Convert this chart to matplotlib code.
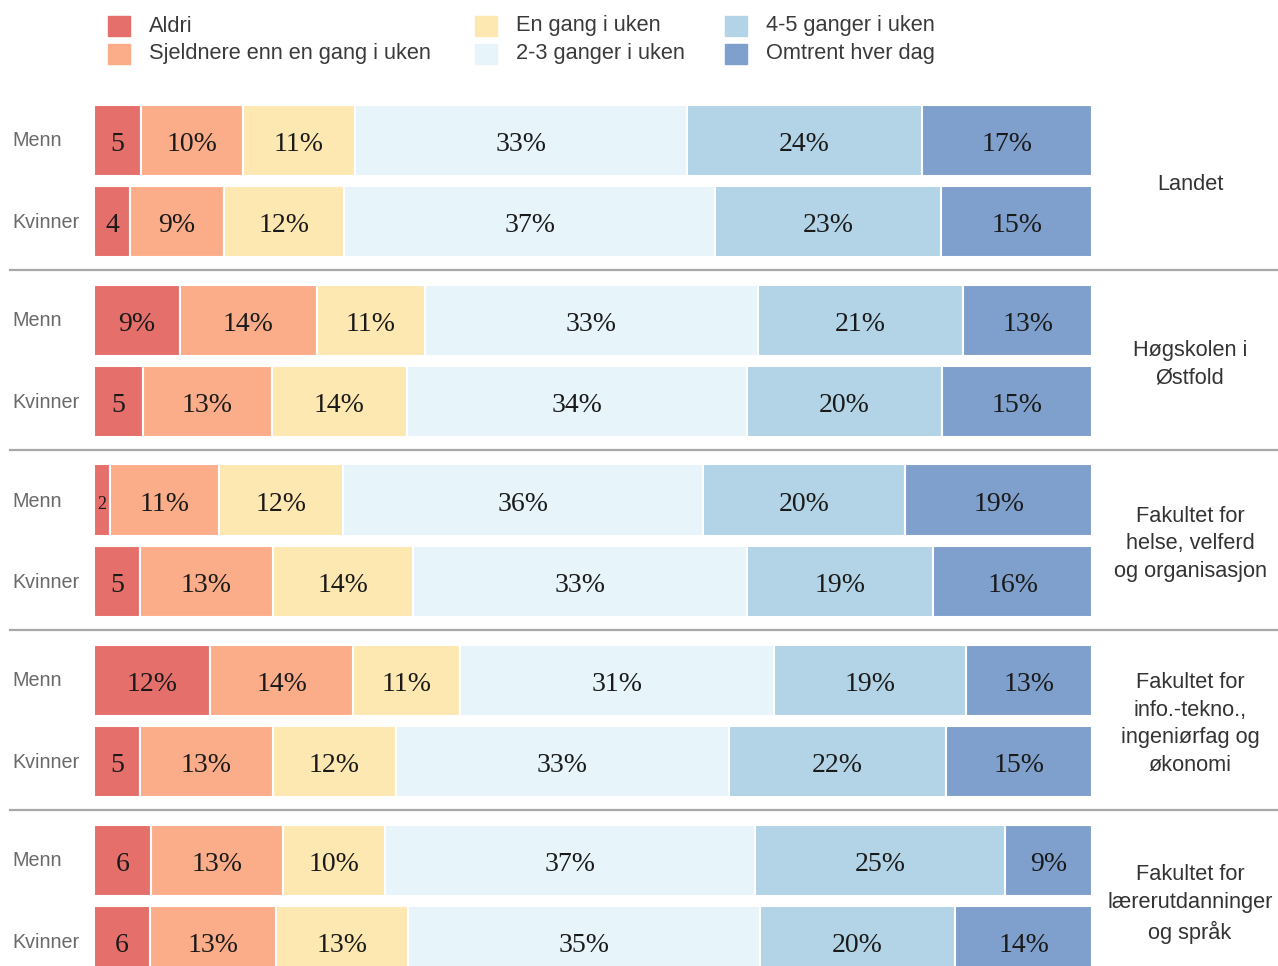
import matplotlib
matplotlib.use("Agg")
import matplotlib.pyplot as plt
from matplotlib.patches import Rectangle
from matplotlib.lines import Line2D

# categories (legend order = stacking order)
categories = ["Aldri", "Sjeldnere enn en gang i uken", "En gang i uken",
              "2-3 ganger i uken", "4-5 ganger i uken", "Omtrent hver dag"]
colors = ["#e56f6a", "#fbad8a", "#fee8b2", "#e7f4fa", "#b3d3e6", "#7fa0cc"]

groups = ["Landet", "Høgskolen i\nØstfold", "Fakultet for\nhelse, velferd\nog organisasjon",
          "Fakultet for\ninfo.-tekno.,\ningeniørfag og\nøkonomi",
          "Fakultet for\nlærerutdanninger\nog språk"]
rows = ["Menn", "Kvinner"]

# percent per row (Menn, Kvinner for each group)
landet_menn = [4.7, 10.2, 11.3, 33.2, 23.6, 17.0]
landet_kvinner = [3.6, 9.4, 12.1, 37.1, 22.7, 15.1]
hiof_menn = [8.6, 13.7, 10.9, 33.3, 20.6, 12.9]
hiof_kvinner = [4.9, 12.9, 13.6, 34.0, 19.6, 15.0]
hvo_menn = [1.6, 10.9, 12.4, 36.1, 20.3, 18.7]
hvo_kvinner = [4.6, 13.3, 14.1, 33.4, 18.7, 15.9]
iio_menn = [11.6, 14.4, 10.7, 31.4, 19.3, 12.6]
iio_kvinner = [4.6, 13.3, 12.4, 33.3, 21.8, 14.6]
fls_menn = [5.7, 13.2, 10.3, 37.0, 25.1, 8.7]
fls_kvinner = [5.6, 12.6, 13.3, 35.2, 19.6, 13.7]

data = [(landet_menn, landet_kvinner), (hiof_menn, hiof_kvinner),
        (hvo_menn, hvo_kvinner), (iio_menn, iio_kvinner), (fls_menn, fls_kvinner)]

W, H = 1278, 966
fig = plt.figure(figsize=(W / 100, H / 100), dpi=100)

def fx(px):
    return px / W

def fy(py):
    return 1 - py / H

ax = fig.add_axes([fx(94), 0, fx(1092) - fx(94), 1 - 90 / H])
ax.set_xlim(0, 100)
row_px = 81
group_step = 180 / row_px
ax.set_ylim((966 - 140) / row_px, (90 - 140) / row_px)
ax.axis("off")

sans = "Liberation Sans"
serif = "Liberation Serif"

for g, pair in enumerate(data):
    for r, vals in enumerate(pair):
        y = g * group_step + r
        left = 0
        for k, v in enumerate(vals):
            ax.barh(y, v, left=left, height=71 / row_px, color=colors[k],
                    edgecolor="white", linewidth=1.5)
            lab = "%d" % round(v) if v < 8 else "%d%%" % round(v)
            size = 13 if v < 3 else 20
            ax.text(left + v / 2, y + 0.05, lab, ha="center", va="center",
                    fontsize=size, family=serif, color="#1a1a1a")
            left += v
        fig.text(fx(12), fy(141 + g * 180 + r * 81), rows[r], ha="left",
                 va="center", fontsize=14.2, family=sans, color="#6a6a6a")
    fig.text(fx(1190), fy(184 + g * 180), groups[g], ha="center", va="center",
             fontsize=15.7, family=sans, color="#333333", linespacing=1.42)

# group separators
for g in range(1, 5):
    yy = fy(270 + (g - 1) * 180)
    fig.add_artist(Line2D([fx(10), fx(1278)], [yy, yy], color="#a8a8a8", lw=1.6))

# legend
leg_x = [108, 475, 725]
leg_y = [26, 54]
for k, name in enumerate(categories):
    col, row = k // 2, k % 2
    x0 = leg_x[col]
    yc = leg_y[row]
    fig.add_artist(Rectangle((fx(x0), fy(yc + 10)), fx(22), 20 / H,
                             transform=fig.transFigure, color=colors[k]))
    fig.text(fx(x0 + 41), fy(yc), name, ha="left", va="center",
             fontsize=15.7, family=sans, color="#3a3a3a")

fig.savefig("out.png", dpi=100)
